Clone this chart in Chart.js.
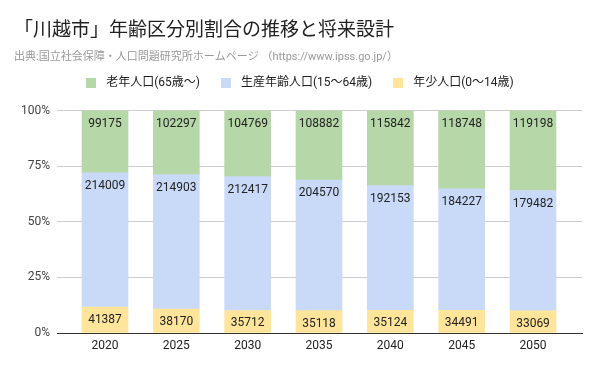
<!DOCTYPE html>
<html>
<head>
<meta charset="utf-8">
<style>
  html, body { margin: 0; padding: 0; background: #fff; }
  canvas { display: block; }
</style>
<script src="https://cdn.jsdelivr.net/npm/chart.js@4.4.1/dist/chart.umd.min.js"></script>
</head>
<body>
<canvas id="chart" width="600" height="371"></canvas>
<script>
  const years = [2020, 2025, 2030, 2035, 2040, 2045, 2050];
  const elderly = [99175, 102297, 104769, 108882, 115842, 118748, 119198];
  const working = [214009, 214903, 212417, 204570, 192153, 184227, 179482];
  const young = [41387, 38170, 35712, 35118, 35124, 34491, 33069];
  const yTicks = [0, 25, 50, 75, 100];

  const FONT = "Roboto, 'Noto Sans CJK JP', sans-serif";
  const LEFT = 14;

  //share of each group in the year's total, in percent
  const totals = years.map((y, i) => elderly[i] + working[i] + young[i]);
  const share = arr => arr.map((v, i) => v / totals[i] * 100);

  //small square drawn as the legend marker, so the gap to the text can be set
  function swatch(color) {
    const c = document.createElement('canvas');
    c.width = 10; c.height = 10;
    const g = c.getContext('2d');
    g.fillStyle = color;
    g.fillRect(0, 0, 10, 10);
    return c;
  }

  //empty box between legend and plot
  const spacer = {
    id: 'spacer',
    beforeInit(chart) {
      Chart.layouts.addBox(chart, {
        position: 'top', weight: 0, fullSize: true, options: {},
        isHorizontal: () => true,
        update(w) { this.width = w; this.height = 12; },
        draw() {}
      });
    }
  };

  //raw numbers written near the top of each segment
  const barValues = {
    id: 'barValues',
    afterDatasetsDraw(chart) {
      const ctx = chart.ctx;
      ctx.save();
      ctx.font = '12px ' + FONT;
      ctx.fillStyle = '#222';
      ctx.textAlign = 'center';
      ctx.textBaseline = 'middle';
      chart.data.datasets.forEach((ds, di) => {
        chart.getDatasetMeta(di).data.forEach((bar, i) => {
          const top = Math.min(bar.y, bar.base);
          ctx.fillText(String(ds.raw[i]), bar.x, top + 13);
        });
      });
      ctx.restore();
    }
  };

  const datasets = [
    { label: '年少人口(0～14歳)', raw: young, color: '#ffe599' },
    { label: '生産年齢人口(15～64歳)', raw: working, color: '#c9daf8' },
    { label: '老年人口(65歳～)', raw: elderly, color: '#b6d7a8' }
  ].map(d => ({
    label: d.label,
    raw: d.raw,
    data: share(d.raw),
    backgroundColor: d.color,
    borderWidth: 0,
    barThickness: 46
  }));

  new Chart(document.getElementById('chart'), {
    type: 'bar',
    data: { labels: years, datasets },
    plugins: [spacer, barValues],
    options: {
      responsive: false,
      animation: false,
      events: [],
      layout: { padding: { left: LEFT, right: 18, top: 0, bottom: 11.6 } },
      plugins: {
        title: {
          display: true, align: 'start', color: '#222',
          text: '「川越市」年齢区分別割合の推移と将来設計',
          font: { family: FONT, size: 19, weight: 'normal', lineHeight: 1.2 },
          padding: { top: 19.6, bottom: 0 }
        },
        subtitle: {
          display: true, align: 'start', color: '#999',
          text: '出典:国立社会保障・人口問題研究所ホームページ （https://www.ipss.go.jp/）',
          font: { family: FONT, size: 11, lineHeight: 0.5 },
          padding: { top: 11.6, bottom: 0.1 }
        },
        legend: {
          reverse: true,
          labels: {
            color: '#222',
            font: { family: FONT, size: 12 },
            usePointStyle: true,
            pointStyleWidth: 18,
            boxHeight: 10,
            padding: 17,
            generateLabels(chart) {
              const items = Chart.defaults.plugins.legend.labels.generateLabels(chart);
              items.forEach(it => { it.pointStyle = swatch(chart.data.datasets[it.datasetIndex].backgroundColor); });
              return items;
            }
          }
        },
        tooltip: { enabled: false }
      },
      scales: {
        x: {
          type: 'linear',
          offset: false,
          stacked: true,
          min: years[0] - 3.364,
          max: years[years.length - 1] + 3.434,
          grid: { display: false, drawTicks: false },
          border: { display: true, color: '#333', width: 1 },
          ticks: {
            stepSize: 5, includeBounds: false, padding: 6, maxRotation: 0,
            color: '#222', font: { family: FONT, size: 12 },
            callback: v => years.includes(v) ? String(v) : ''
          }
        },
        y: {
          stacked: true,
          min: yTicks[0],
          max: yTicks[yTicks.length - 1],
          afterFit: s => { s.width = 57 - LEFT; },
          grid: {
            drawTicks: false,
            color: c => c.tick && c.tick.value === 0 ? '#333' : '#cccccc'
          },
          border: { display: false },
          ticks: {
            stepSize: 25, padding: 7,
            color: '#444', font: { family: FONT, size: 12 },
            callback: v => v + '%'
          }
        }
      }
    }
  });
</script>
</body>
</html>
